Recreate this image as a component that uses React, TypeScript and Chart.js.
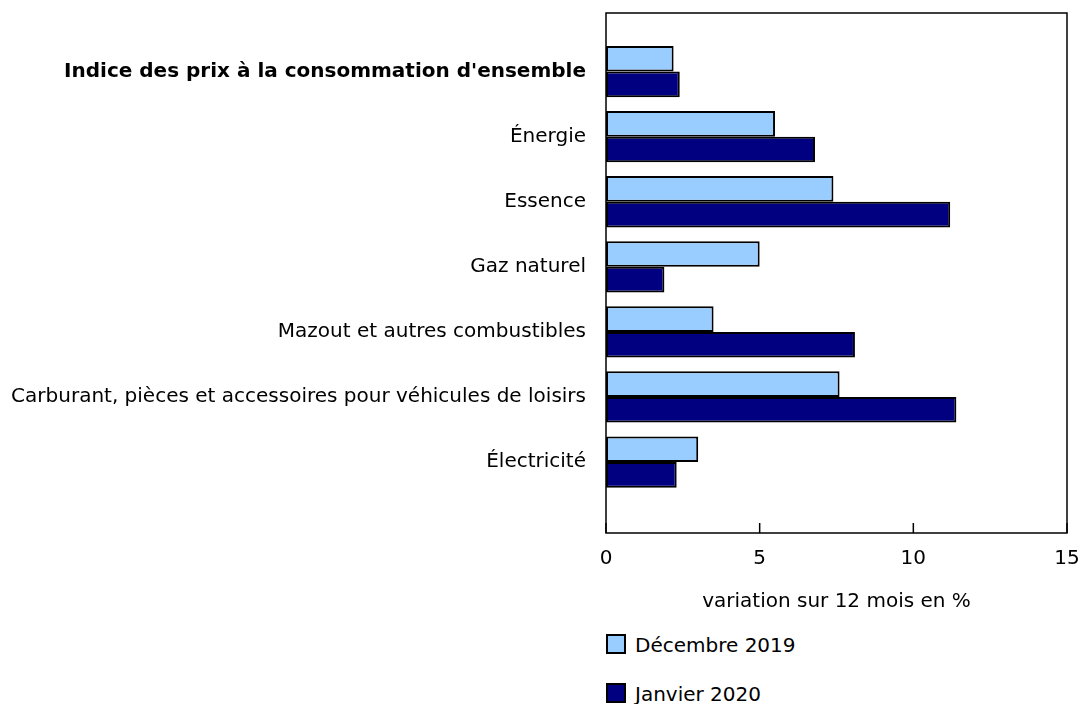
import React, { useEffect, useRef } from 'react';
import { Chart, registerables } from 'chart.js';

Chart.register(...registerables);

const categories = [
  "Indice des prix à la consommation d'ensemble",
  'Énergie',
  'Essence',
  'Gaz naturel',
  'Mazout et autres combustibles',
  'Carburant, pièces et accessoires pour véhicules de loisirs',
  'Électricité',
];
const dec2019 = [2.2, 5.5, 7.4, 5.0, 3.5, 7.6, 3.0];
const jan2020 = [2.4, 6.8, 11.2, 1.9, 8.1, 11.4, 2.3];
const seriesLabels = ['Décembre 2019', 'Janvier 2020'];
const seriesColors = ['#99CCFF', '#000080'];
const xTicks = [0, 5, 10, 15];
const xTitle = 'variation sur 12 mois en %';

const FONT = "'DejaVu Sans', Verdana, sans-serif";

const framePlugin = {
  id: 'frame',
  afterDatasetsDraw(chart: any) {
    const { ctx, chartArea: a, scales } = chart;
    ctx.save();
    ctx.strokeStyle = '#000';
    ctx.lineWidth = 1.5;
    ctx.strokeRect(a.left, a.top, a.right - a.left, a.bottom - a.top);
    const xs = scales.x;
    xs.ticks.forEach((t: any) => {
      const px = xs.getPixelForValue(t.value);
      ctx.beginPath();
      ctx.moveTo(px, a.bottom);
      ctx.lineTo(px, a.bottom - 10);
      ctx.stroke();
    });
    ctx.restore();
  },
};

export default function App() {
  const ref = useRef<HTMLCanvasElement | null>(null);

  useEffect(() => {
    if (!ref.current) return;
    Chart.defaults.color = '#000';
    const chart = new Chart(ref.current, {
      type: 'bar',
      data: {
        datasets: [dec2019, jan2020].map((vals, si) => ({
          label: seriesLabels[si],
          data: vals.map((v, i) => ({ x: v, y: i })),
          backgroundColor: seriesColors[si],
          borderColor: '#000',
          borderWidth: 2,
          borderSkipped: false,
          barPercentage: 1,
          categoryPercentage: 0.788,
        })),
      },
      options: {
        indexAxis: 'y',
        animation: false,
        responsive: false,
        maintainAspectRatio: false,
        layout: { padding: { top: 13, right: 15, left: 0, bottom: 0 } },
        plugins: { legend: { display: false }, tooltip: { enabled: false } },
        scales: {
          x: {
            type: 'linear',
            min: 0,
            max: 15,
            afterBuildTicks: (axis: any) => {
              axis.ticks = xTicks.map((v) => ({ value: v }));
            },
            afterFit: (scale: any) => {
              scale.height = 87;
              scale.paddingLeft = 0;
              scale.paddingRight = 0;
              scale.paddingTop = 0;
              scale.paddingBottom = 0;
            },
            grid: { display: false, drawTicks: false },
            border: { display: false },
            ticks: { padding: 14, font: { family: FONT, size: 20 }, color: '#000', maxRotation: 0 },
            title: {
              display: true,
              text: xTitle,
              font: { family: FONT, size: 20 },
              color: '#000',
              padding: { top: 0, bottom: 6 },
            },
          },
          y: {
            type: 'linear',
            reverse: true,
            offset: false,
            min: -0.9,
            max: 7.09,
            afterBuildTicks: (axis: any) => {
              axis.ticks = categories.map((_, i) => ({ value: i }));
            },
            afterFit: (scale: any) => {
              scale.width = 606;
              scale.paddingLeft = 0;
              scale.paddingRight = 0;
              scale.paddingTop = 0;
              scale.paddingBottom = 0;
            },
            grid: { display: false, drawTicks: false, offset: false },
            border: { display: false },
            ticks: {
              padding: 20,
              color: '#000',
              autoSkip: false,
              callback: (v: any) => categories[v as number] ?? '',
              font: (c: any) => ({
                family: FONT,
                size: 20,
                weight: c.tick && c.tick.value === 0 ? 'bold' : 'normal',
              }),
            },
          },
        },
      },
      plugins: [framePlugin],
    } as any);
    return () => chart.destroy();
  }, []);

  return (
    <div style={{ position: 'absolute', left: 0, top: 0, width: 1082, height: 704, background: '#fff', fontFamily: FONT }}>
      <canvas ref={ref} width={1082} height={620} style={{ position: 'absolute', left: 0, top: 0, width: 1082, height: 620 }} />
      {seriesLabels.map((lab, i) => (
        <div
          key={lab}
          style={{
            position: 'absolute',
            left: 606,
            top: 634 + i * 49,
            height: 20,
            display: 'flex',
            alignItems: 'center',
            fontSize: 20,
            color: '#000',
            whiteSpace: 'nowrap',
          }}
        >
          <span
            style={{
              display: 'inline-block',
              width: 20,
              height: 20,
              boxSizing: 'border-box',
              border: '2px solid #000',
              background: seriesColors[i],
              marginRight: 9,
            }}
          />
          <span style={{ lineHeight: '20px', position: 'relative', top: 1 }}>{lab}</span>
        </div>
      ))}
    </div>
  );
}
